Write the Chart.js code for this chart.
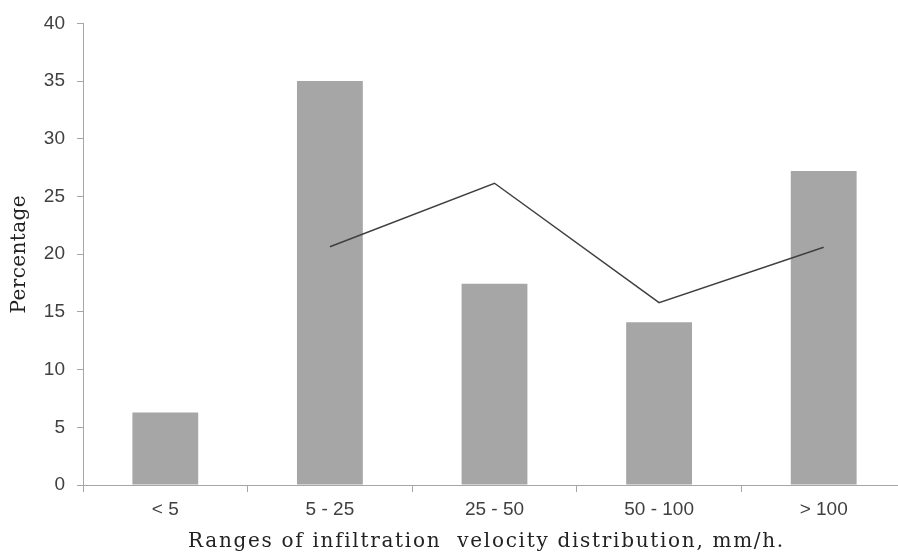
<!DOCTYPE html>
<html>
<head>
<meta charset="utf-8">
<script src="https://cdn.jsdelivr.net/npm/chart.js@4/dist/chart.umd.min.js"></script>
<style>
  html, body { margin: 0; padding: 0; background: #ffffff; overflow: hidden; }
  #wrap { position: relative; width: 912px; height: 554px; }
</style>
</head>
<body>
<div id="wrap"><canvas id="c"></canvas></div>
<script>
const categories = ['< 5', '5 - 25', '25 - 50', '50 - 100', '> 100'];
const barValues = [6.28, 35.0, 17.45, 14.1, 27.2];
const lineValues = [null, 20.65, 26.15, 15.8, 20.6];
const yTicks = [0, 5, 10, 15, 20, 25, 30, 35, 40];
const xTitle = 'Ranges of infiltration  velocity distribution, mm/h.';
const yTitle = 'Percentage';

const axisColor = '#a6a6a6';
const textColor = '#404040';

function wrapTitle(s, spacing, dx) {
  if (s._wrappedTitle) return;
  const orig = s.drawTitle;
  s.drawTitle = function () {
    const ctx = this.ctx;
    ctx.save();
    ctx.letterSpacing = spacing;
    ctx.translate(dx, 0);
    orig.call(this);
    ctx.restore();
  };
  s._wrappedTitle = true;
}

new Chart(document.getElementById('c'), {
  type: 'bar',
  data: {
    labels: categories,
    datasets: [
      {
        type: 'line',
        data: lineValues,
        borderColor: '#404040',
        borderWidth: 1.5,
        pointRadius: 0,
        tension: 0,
        fill: false,
        order: 0
      },
      {
        type: 'bar',
        data: barValues,
        backgroundColor: '#a6a6a6',
        borderWidth: 0,
        categoryPercentage: 1.0,
        barPercentage: 0.4,
        order: 1
      }
    ]
  },
  options: {
    responsive: true,
    maintainAspectRatio: false,
    animation: false,
    events: [],
    layout: { padding: { top: 22, left: 0, right: 6, bottom: 0 } },
    plugins: { legend: { display: false }, tooltip: { enabled: false } },
    scales: {
      x: {
        grid: { display: true, drawOnChartArea: false, color: axisColor, tickLength: 7, offset: true },
        border: { display: true, color: axisColor, width: 1 },
        ticks: { color: textColor, font: { family: 'Liberation Sans', size: 19 }, padding: 6, maxRotation: 0 },
        title: { display: true, text: xTitle, color: '#222', font: { family: 'DejaVu Serif', size: 20 }, padding: { top: 0, bottom: 0 } },
        afterFit: (s) => { s.height = 69; wrapTitle(s, '1.7px', -8); }
      },
      y: {
        min: 0, max: 40,
        afterBuildTicks: (s) => { s.ticks = yTicks.map(v => ({ value: v })); },
        grid: { display: true, drawOnChartArea: false, color: axisColor, tickLength: 6 },
        border: { display: true, color: axisColor, width: 1 },
        ticks: { color: textColor, font: { family: 'Liberation Sans', size: 19 }, padding: 12 },
        title: { display: true, text: yTitle, color: '#222', font: { family: 'DejaVu Serif', size: 20 }, padding: { top: 8, bottom: 0 } },
        afterFit: (s) => { s.width = 83; wrapTitle(s, '0.4px', 0); }
      }
    }
  }
});
</script>
</body>
</html>
